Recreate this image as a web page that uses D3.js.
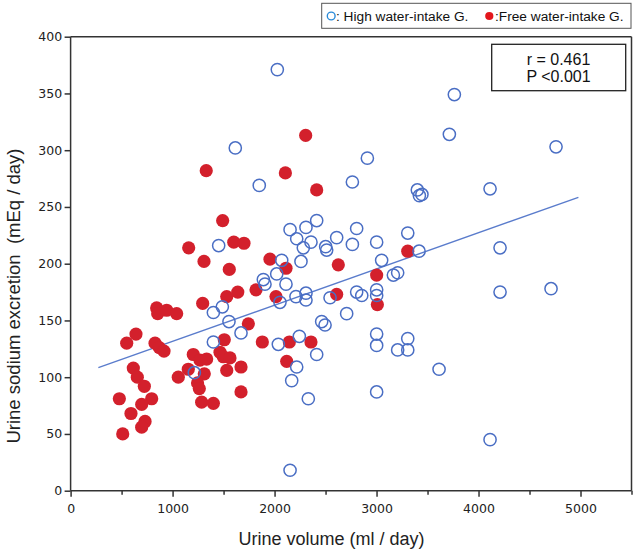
<!DOCTYPE html>
<html><head><meta charset="utf-8">
<script src="https://cdn.jsdelivr.net/npm/d3@7"></script>
<style>
html,body{margin:0;padding:0;background:#fff;}
svg{display:block;}
</style></head>
<body>
<svg id="chart" width="637" height="553"></svg>
<script>
// ---- data ----
const highVolume = [2027,1615,1850,2910,2763,3763,3714,4760,3400,3420,3445,4113,1452,2413,2805,2152,2308,2217,2357,2282,2501,2511,2609,2763,3001,3050,3306,3417,4211,2070,2259,1890,1906,2021,2112,3165,3207,2053,2210,2308,2308,2544,2805,2855,3001,3001,4211,4711,1400,1488,1553,1671,1400,2707,2462,2495,3001,3001,3306,3207,3306,2037,2243,2413,1213,2217,2168,2331,3001,3613,4113,2152];
const highSodium = [371,302,269,293,272,349,314,303,265,260,261,266,216,238,231,230,232,222,219,214,215,212,223,217,219,203,227,211,214,203,202,186,182,191,182,190,192,166,171,174,168,170,175,172,177,172,175,178,157,162,149,139,131,156,149,146,138,128,134,124,124,129,136,120,104,109,97,81,87,107,45,18];
const freeVolume = [1330,2305,2106,2413,1491,1600,1700,1158,1308,1556,1955,2112,2625,1639,1531,1818,2014,2609,3001,3008,3306,1295,844,854,942,1040,1743,1507,1880,641,550,828,870,916,1203,1269,1334,1465,1497,1563,1154,1311,1056,1531,1671,615,654,723,1245,1262,1671,795,697,478,1285,1400,592,730,697,511,2145,2357,2119];
const freeSodium = [282,313,280,265,238,219,218,214,202,195,204,196,199,175,171,177,171,173,190,164,211,165,161,156,159,156,147,133,131,138,130,130,126,123,120,115,116,122,118,117,107,103,100,106,109,108,100,92,95,90,87,81,76,81,78,77,68,61,56,50,131,131,114];
const regVolume = [272, 4979];
const regSodium = [108.4, 258.5];
const xTickValues = [0,1000,2000,3000,4000,5000];
const xMinorTicks = [500,1500,2500,3500,4500,5500];
const yTickValues = [0,50,100,150,200,250,300,350,400];
const legendLabels = [": High water-intake G.", ":Free water-intake G."];
const statLines = ["r = 0.461", "P <0.001"];
const xTitle = "Urine volume (ml / day)";
const yTitle = "Urine sodium excretion\u00a0\u00a0(mEq / day)";

// ---- layout ----
const svg = d3.select("#chart");
const L = 70.6, T = 36.7, R = 631.5, B = 490.7;
const x = d3.scaleLinear().domain([0,5500]).range([L,R]);
const y = d3.scaleLinear().domain([0,400]).range([B,T]);
const axisColor = "#333";
const blue = "#4a6ec4", red = "#d3202c";

// frame (top & right)
svg.append("line").attr("x1",L).attr("x2",R).attr("y1",T).attr("y2",T)
  .attr("stroke",axisColor).attr("stroke-width",1.5);
svg.append("line").attr("x1",R).attr("x2",R).attr("y1",T).attr("y2",B)
  .attr("stroke",axisColor).attr("stroke-width",1.5);

// x axis
const gx = svg.append("g").attr("transform",`translate(0,${B})`)
  .call(d3.axisBottom(x).tickValues(xTickValues).tickFormat(d3.format("d")).tickSize(6).tickPadding(7.5));
svg.append("g").attr("transform",`translate(0,${B})`)
  .call(d3.axisBottom(x).tickValues(xMinorTicks).tickFormat("").tickSize(4).tickSizeOuter(0))
  .select(".domain").remove();
// y axis
const gy = svg.append("g").attr("transform",`translate(${L},0)`)
  .call(d3.axisLeft(y).tickValues(yTickValues).tickSize(6).tickPadding(2.5).tickSizeOuter(0));
svg.selectAll(".tick line, .domain").attr("stroke",axisColor).attr("stroke-width",1.5);
svg.selectAll(".tick text").attr("font-family","'DejaVu Sans', Verdana, sans-serif")
  .attr("font-size","12.5px").attr("fill","#222");
gx.select(".domain").attr("d",`M${L},0H${R}`);
gy.select(".domain").attr("d",`M0,${B-T+T}V${T}`);

// regression line
svg.append("line").attr("x1",x(regVolume[0])).attr("y1",y(regSodium[0]))
  .attr("x2",x(regVolume[1])).attr("y2",y(regSodium[1]))
  .attr("stroke","#5a7ccc").attr("stroke-width",1.4);

// points
svg.append("g").selectAll("circle").data(d3.range(freeVolume.length)).join("circle")
  .attr("cx",i=>x(freeVolume[i])).attr("cy",i=>y(freeSodium[i])).attr("r",6.6)
  .attr("fill",red);
svg.append("g").selectAll("circle").data(d3.range(highVolume.length)).join("circle")
  .attr("cx",i=>x(highVolume[i])).attr("cy",i=>y(highSodium[i])).attr("r",6.1)
  .attr("fill","none").attr("stroke",blue).attr("stroke-width",1.5);

// axis titles
const titleFont = "'Liberation Sans', Arial, sans-serif";
svg.append("text").attr("x",331.5).attr("y",545).attr("text-anchor","middle")
  .attr("font-family",titleFont).attr("font-size","18px").attr("fill","#222").text(xTitle);
svg.append("text").attr("transform","translate(20,296) rotate(-90)").attr("text-anchor","middle")
  .attr("font-family",titleFont).attr("font-size","18.5px").attr("fill","#222").text(yTitle);

// legend
svg.append("rect").attr("x",321.7).attr("y",3.3).attr("width",309.3).attr("height",25)
  .attr("fill","#fff").attr("stroke","#555").attr("stroke-width",1);
svg.append("circle").attr("cx",331.2).attr("cy",16).attr("r",3.9).attr("fill","none")
  .attr("stroke","#2a8ad8").attr("stroke-width",1.4);
svg.append("circle").attr("cx",489.3).attr("cy",16).attr("r",4.1).attr("fill","#e3161c");
svg.append("text").attr("x",336).attr("y",21).attr("font-family",titleFont)
  .attr("font-size","13.7px").attr("fill","#111").text(legendLabels[0]);
svg.append("text").attr("x",495).attr("y",21).attr("font-family",titleFont)
  .attr("font-size","13.7px").attr("fill","#111").text(legendLabels[1]);

// stats box
svg.append("rect").attr("x",491.7).attr("y",44.3).attr("width",134).attr("height",46.4)
  .attr("fill","#fff").attr("stroke","#222").attr("stroke-width",1.3);
svg.selectAll(".stat").data(statLines).join("text").attr("class","stat")
  .attr("x",558.5).attr("y",(d,i)=>65+i*16.7).attr("text-anchor","middle")
  .attr("font-family",titleFont).attr("font-size","16px").attr("fill","#111").text(d=>d);
</script>
</body></html>
